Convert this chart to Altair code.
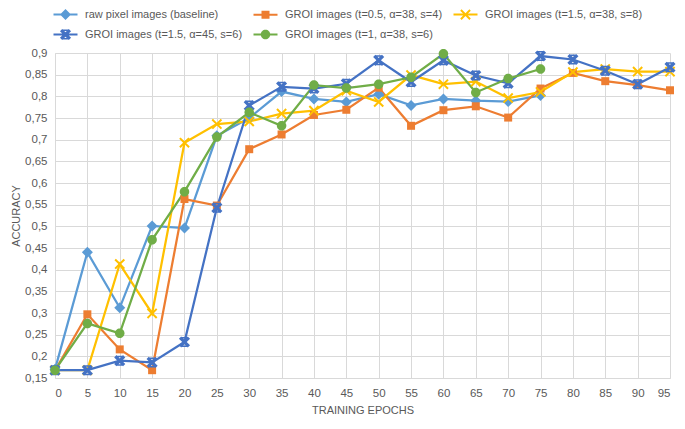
import math
import altair as alt
import pandas as pd

epochs = list(range(0, 100, 5))
y_ticks = [0.15, 0.2, 0.25, 0.3, 0.35, 0.4, 0.45, 0.5, 0.55, 0.6, 0.65, 0.7, 0.75, 0.8, 0.85, 0.9]

series_names = [
    "raw pixel images (baseline)",
    "GROI images (t=0.5, α=38, s=4)",
    "GROI images (t=1.5, α=38, s=8)",
    "GROI images (t=1.5, α=45, s=6)",
    "GROI images (t=1, α=38, s=6)",
]
raw = [0.17, 0.44, 0.312, 0.501, 0.496, 0.709, 0.75, 0.811, 0.794, 0.787, 0.805, 0.779, 0.794, 0.79, 0.788, 0.802]
groi_05_38_4 = [0.167, 0.297, 0.216, 0.168, 0.563, 0.548, 0.678, 0.712, 0.757, 0.769, 0.82, 0.732, 0.768, 0.777, 0.751, 0.818, 0.854, 0.835, 0.826, 0.814]
groi_15_38_8 = [0.168, 0.168, 0.413, 0.299, 0.693, 0.736, 0.742, 0.76, 0.767, 0.813, 0.787, 0.849, 0.828, 0.834, 0.796, 0.81, 0.856, 0.863, 0.857, 0.857]
groi_15_45_6 = [0.168, 0.168, 0.19, 0.186, 0.233, 0.543, 0.779, 0.822, 0.818, 0.829, 0.883, 0.833, 0.883, 0.848, 0.83, 0.893, 0.885, 0.859, 0.828, 0.867]
groi_1_38_6 = [0.168, 0.276, 0.253, 0.469, 0.58, 0.706, 0.763, 0.732, 0.826, 0.819, 0.828, 0.844, 0.898, 0.809, 0.841, 0.863]

colors = ["#5B9BD5", "#ED7D31", "#FFC000", "#4472C4", "#70AD47"]

rows = []
for name, vals in zip(series_names, [raw, groi_05_38_4, groi_15_38_8, groi_15_45_6, groi_1_38_6]):
    for e, v in zip(epochs, vals):
        rows.append({"epoch": e, "acc": v, "series": name})
df = pd.DataFrame(rows)


# ---- marker shapes (SVG paths in unit box) ----
def poly(pts):
    return "M" + "L".join(f"{x:.3f},{y:.3f}" for x, y in pts) + "Z"


def rotated_plus(a, L):
    pts = [(-a, -L), (a, -L), (a, -a), (L, -a), (L, a), (a, a), (a, L), (-a, L), (-a, a), (-L, a), (-L, -a), (-a, -a)]
    c = 1 / math.sqrt(2)
    return [((x - y) * c, (x + y) * c) for x, y in pts]


diamond = "M0,-1.1L1.1,0L0,1.1L-1.1,0Z"
square = "M-0.8,-0.8L0.8,-0.8L0.8,0.8L-0.8,0.8Z"
circle = "M-0.95,0A0.95,0.95 0 1,1 0.95,0A0.95,0.95 0 1,1 -0.95,0Z"
xmark = poly(rotated_plus(0.2, 1.3))
star = poly(rotated_plus(0.32, 1.25)) + "M-0.55,-1.0L0.55,-1.0L0.55,-0.7L-0.55,-0.7Z" + "M-0.55,0.7L0.55,0.7L0.55,1.0L-0.55,1.0Z"
marker_paths = [diamond, square, xmark, star, circle]
line_seg = "M-2.4,-0.2L2.4,-0.2L2.4,0.2L-2.4,0.2Z"
legend_paths = [line_seg + p for p in marker_paths]

FONT = "Liberation Sans"
GREY = "#595959"

x_enc = alt.X(
    "epoch:Q",
    scale=alt.Scale(domain=[0, 95], nice=False, zero=False),
    axis=alt.Axis(values=epochs, title="TRAINING EPOCHS", labelPadding=9, titlePadding=6),
)
y_enc = alt.Y(
    "acc:Q",
    scale=alt.Scale(domain=[0.15, 0.9], nice=False, zero=False),
    axis=alt.Axis(
        values=y_ticks,
        title="ACCURACY",
        labelExpr="replace(format(datum.value, '.2~f'), '.', ',')",
        labelPadding=8,
        titlePadding=3,
    ),
)
color_enc = alt.Color("series:N", scale=alt.Scale(domain=series_names, range=colors), legend=None)

base = alt.Chart(df)
lines = base.mark_line(strokeWidth=2.25).encode(x=x_enc, y=y_enc, color=color_enc)
points = base.mark_point(filled=True, size=100, opacity=1).encode(
    x=x_enc,
    y=y_enc,
    color=color_enc,
    shape=alt.Shape("series:N", scale=alt.Scale(domain=series_names, range=marker_paths), legend=None),
)

legend_layer = (
    base.transform_calculate(legend="datum.series")
    .transform_filter("false")
    .mark_point(filled=True, size=100, opacity=1)
    .encode(
        x=x_enc,
        y=y_enc,
        color=alt.Color(
            "legend:N",
            scale=alt.Scale(domain=series_names, range=colors),
            legend=alt.Legend(
                title=None,
                orient="none",
                direction="horizontal",
                legendX=5,
                legendY=-44,
                columns=3,
                symbolSize=100,
                labelOffset=14,
                rowPadding=8,
                columnPadding=10,
                labelFont=FONT,
                labelFontSize=11,
                labelColor=GREY,
                labelLimit=0,
                symbolStrokeWidth=0,
                symbolOpacity=1,
            ),
        ),
        shape=alt.Shape("legend:N", scale=alt.Scale(domain=series_names, range=legend_paths)),
    )
)

chart = (
    alt.layer(lines, points, legend_layer)
    .resolve_scale(color="independent", shape="independent")
    .properties(
        width=615,
        height=325,
        autosize=alt.AutoSizeParams(type="none"),
        padding={"left": 47, "top": 45, "right": 7, "bottom": 43},
        background="white",
    )
    .configure_view(stroke=None)
    .configure_axis(
        labelFont=FONT,
        labelFontSize=11.5,
        labelColor=GREY,
        titleFont=FONT,
        titleFontSize=11,
        titleFontWeight="normal",
        titleColor=GREY,
        gridColor="#D9D9D9",
        gridWidth=1,
        domainColor="#D9D9D9",
        ticks=False,
    )
)

chart.save("out.html", embed_options={"renderer": "svg", "actions": False})
